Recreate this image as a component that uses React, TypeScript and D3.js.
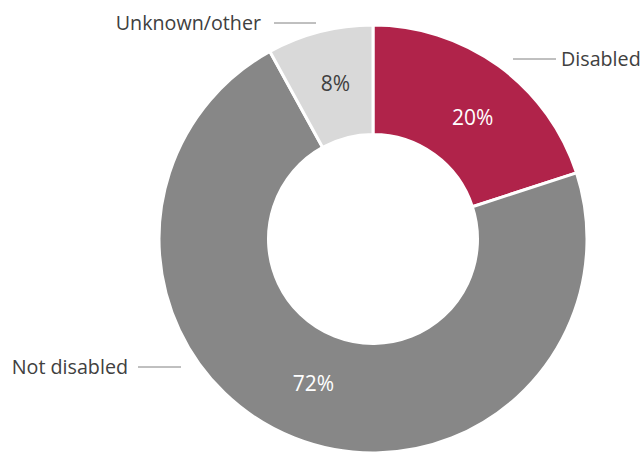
import React from "react";
import * as d3 from "d3";

const categories = ["Disabled", "Not disabled", "Unknown/other"];
const values = [20, 72, 8];
const colors = ["#B0234A", "#878787", "#D9D9D9"];
const pctColors = ["#FFFFFF", "#FFFFFF", "#404040"];

const W = 643;
const H = 455;
const cx = 373;
const cy = 239;
const outerR = 214;
const innerR = 104.5;

// percent label nudges
const pctOffset = [
  [6, 7],
  [-1, -3],
  [2, -1],
];

// label layout (relative to chart center)
const labelLayout = [
  { lx1: 140, lx2: 183, ly: -180, tx: 188, anchor: "start" },
  { lx1: -192, lx2: -235, ly: 128, tx: -245, anchor: "end" },
  { lx1: -57, lx2: -99, ly: -216, tx: -112, anchor: "end" },
];

export default function App() {
  const pie = d3.pie<number>().sort(null).value((d) => d);
  const arcs = pie(values);
  const arc = d3.arc<d3.PieArcDatum<number>>().innerRadius(innerR).outerRadius(outerR);
  const total = d3.sum(values);
  return (
    <svg width={W} height={H} style={{ position: "absolute", left: 0, top: 0 }}
      fontFamily="'Open Sans', sans-serif">
      <g transform={`translate(${cx},${cy})`}>
        {arcs.map((a, i) => (
          <path key={i} d={arc(a) || ""} fill={colors[i]} stroke="#fff" strokeWidth={3} />
        ))}
        {arcs.map((a, i) => {
          const [x, y] = arc.centroid(a);
          return (
            <text key={"p" + i} x={x + pctOffset[i][0]} y={y + pctOffset[i][1]} dy="0.35em" textAnchor="middle"
              fontSize={21} fill={pctColors[i]}>
              {Math.round((values[i] / total) * 100)}%
            </text>
          );
        })}
        {categories.map((c, i) => {
          const l = labelLayout[i];
          return (
            <g key={"l" + i}>
              <line x1={l.lx1} x2={l.lx2} y1={l.ly} y2={l.ly} stroke="#808080" strokeWidth={1} />
              <text x={l.tx} y={l.ly} dy="0.35em" textAnchor={l.anchor as any}
                fontSize={19.7} fill="#404040">{c}</text>
            </g>
          );
        })}
      </g>
    </svg>
  );
}
